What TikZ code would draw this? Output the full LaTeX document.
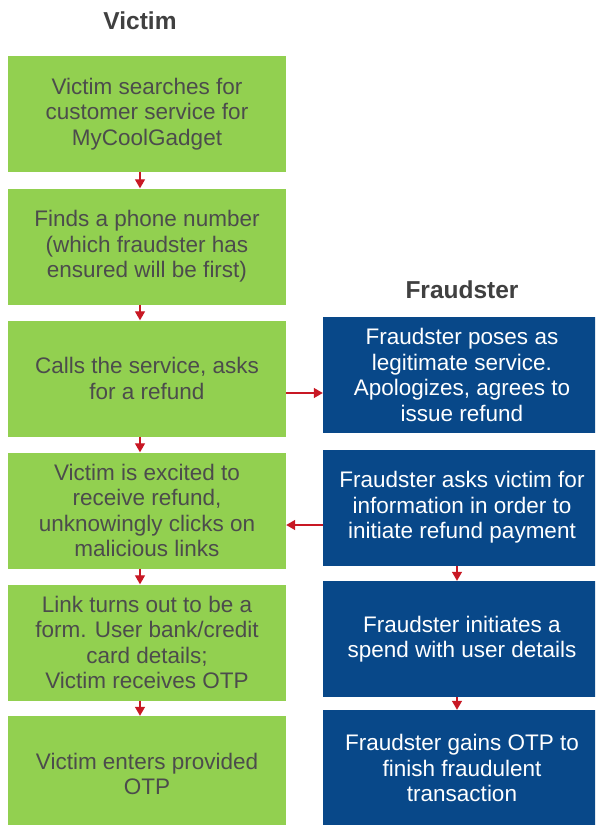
\documentclass[tikz,border=0pt]{standalone}
\usepackage{fontspec}
\setmainfont{Liberation Sans}
\usetikzlibrary{arrows.meta}
\definecolor{vgreen}{RGB}{146,208,80}
\definecolor{fblue}{RGB}{8,72,137}
\definecolor{gtext}{RGB}{76,76,76}
\definecolor{htext}{RGB}{64,64,64}
\definecolor{ared}{RGB}{200,24,36}
\tikzset{
  boxbase/.style={minimum width=278pt, minimum height=116pt, align=center, inner sep=0pt,
    font=\fontsize{22.5}{25.5}\selectfont},
  gbox/.style={boxbase, fill=vgreen, text=gtext},
  bbox/.style={boxbase, fill=fblue, text=white},
  header/.style={font=\fontsize{24.5}{28}\selectfont\bfseries, text=htext},
  arr/.style={draw=ared, line width=1.3pt, -{Triangle[width=10pt,length=9pt]}}
}
\begin{document}
\begin{tikzpicture}[x=1pt,y=-1pt]
\useasboundingbox (0,0) rectangle (595,825);
\clip (0,0) rectangle (595,825);
\fill[white] (0,0) rectangle (595,825);

\node[header] (hv) at (140,21) {Victim};
\node[header] (hf) at (462,290) {Fraudster};

\node[gbox] (g1) at (147,114) {Victim searches for\\customer service for\\MyCoolGadget};
\node[gbox] (g2) at (147,246.5) {Finds a phone number\\(which fraudster has\\ensured will be first)};
\node[gbox] (g3) at (147,378.5) {Calls the service, asks\\for a refund};
\node[gbox] (g4) at (147,510.5) {Victim is excited to\\receive refund,\\unknowingly clicks on\\malicious links};
\node[gbox] (g5) at (147,642.5) {Link turns out to be a\\form. User bank/credit\\card details;\\Victim receives OTP};
\node[gbox] (g6) at (147,774) {Victim enters provided\\OTP};

\node[bbox] (b1) at (462,375) {Fraudster poses as\\legitimate service.\\Apologizes, agrees to\\issue refund};
\node[bbox] (b2) at (462,507.5) {Fraudster asks victim for\\information in order to\\initiate refund payment};
\node[bbox] (b3) at (462,639) {Fraudster initiates a\\spend with user details};
\node[bbox] (b4) at (462,768) {Fraudster gains OTP to\\finish fraudulent\\transaction};

\draw[arr] ([xshift=-7pt]g1.south) -- ([xshift=-7pt]g2.north);
\draw[arr] ([xshift=-7pt]g2.south) -- ([xshift=-7pt]g3.north);
\draw[arr] ([xshift=-7pt]g3.south) -- ([xshift=-7pt]g4.north);
\draw[arr] ([xshift=-7pt]g4.south) -- ([xshift=-7pt]g5.north);
\draw[arr] ([xshift=-7pt]g5.south) -- ([xshift=-7pt]g6.north);

\draw[arr] ([yshift=-14.5pt]g3.east) -- ([yshift=-18pt]b1.west);
\draw[arr] ([yshift=-17.5pt]b2.west) -- ([yshift=-14.5pt]g4.east);

\draw[arr] ([xshift=-5pt]b2.south) -- ([xshift=-5pt]b3.north);
\draw[arr] ([xshift=-5pt]b3.south) -- ([xshift=-5pt]b4.north);
\end{tikzpicture}
\end{document}
